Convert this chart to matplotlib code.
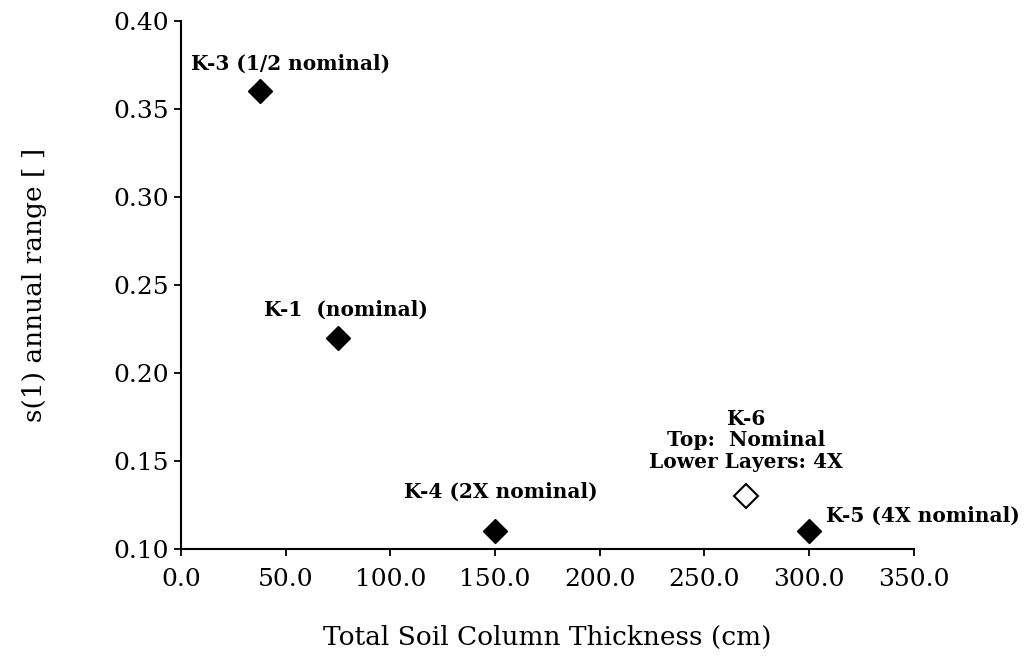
import matplotlib.pyplot as plt
import numpy as np
from matplotlib.ticker import FormatStrFormatter

# values
thickness = [37.5, 75.0, 150.0, 300.0]
s1_range = [0.36, 0.22, 0.11, 0.11]
run_names = ['K-3 (1/2 nominal)', 'K-1  (nominal)', 'K-4 (2X nominal)', 'K-5 (4X nominal)']

k6_thickness = 270.0
k6_range = 0.13
k6_name = 'K-6\nTop:  Nominal\nLower Layers: 4X'

xticks = np.arange(0, 351, 50)
yticks = [0.10, 0.15, 0.20, 0.25, 0.30, 0.35, 0.40]

plt.rcParams['font.family'] = ['DejaVu Serif']

fig = plt.figure(figsize=(10.29, 6.58), dpi=100)
ax = fig.add_axes([0.176, 0.166, 0.712, 0.802])

ax.plot(thickness, s1_range, 'D', color='black', markersize=12.5, clip_on=False)
ax.plot([k6_thickness], [k6_range], 'D', markerfacecolor='white',
        markeredgecolor='black', markeredgewidth=1.5, markersize=12.5)

# label offsets in pixels from each point
offsets = [(-69, 28), (-74, 28), (-91, 39), (17, 15)]
for x, y, name, off in zip(thickness, s1_range, run_names, offsets):
    ax.annotate(name, (x, y), xytext=off, textcoords='offset pixels',
                ha='left', va='center', fontsize=14.5, fontweight='bold',
                annotation_clip=False)
ax.annotate(k6_name, (k6_thickness, k6_range), xytext=(0, 24),
            textcoords='offset pixels', ha='center', va='bottom',
            fontsize=14.5, fontweight='bold', linespacing=1.1)

ax.set_xlim(0, 350)
ax.set_ylim(0.10, 0.40)
ax.set_xticks(xticks)
ax.set_yticks(yticks)
ax.xaxis.set_major_formatter(FormatStrFormatter('%.1f'))
ax.yaxis.set_major_formatter(FormatStrFormatter('%.2f'))

for side in ['top', 'right']:
    ax.spines[side].set_visible(False)
for side in ['left', 'bottom']:
    ax.spines[side].set_linewidth(1.5)
ax.tick_params(direction='out', length=5, width=1.3, labelsize=18)
ax.tick_params(axis='x', pad=9)

ax.set_xlabel('Total Soil Column Thickness (cm)', fontsize=19, labelpad=24)
ax.set_ylabel('s(1) annual range [ ]', fontsize=19, labelpad=48)

fig.savefig('out.png', dpi=100)
